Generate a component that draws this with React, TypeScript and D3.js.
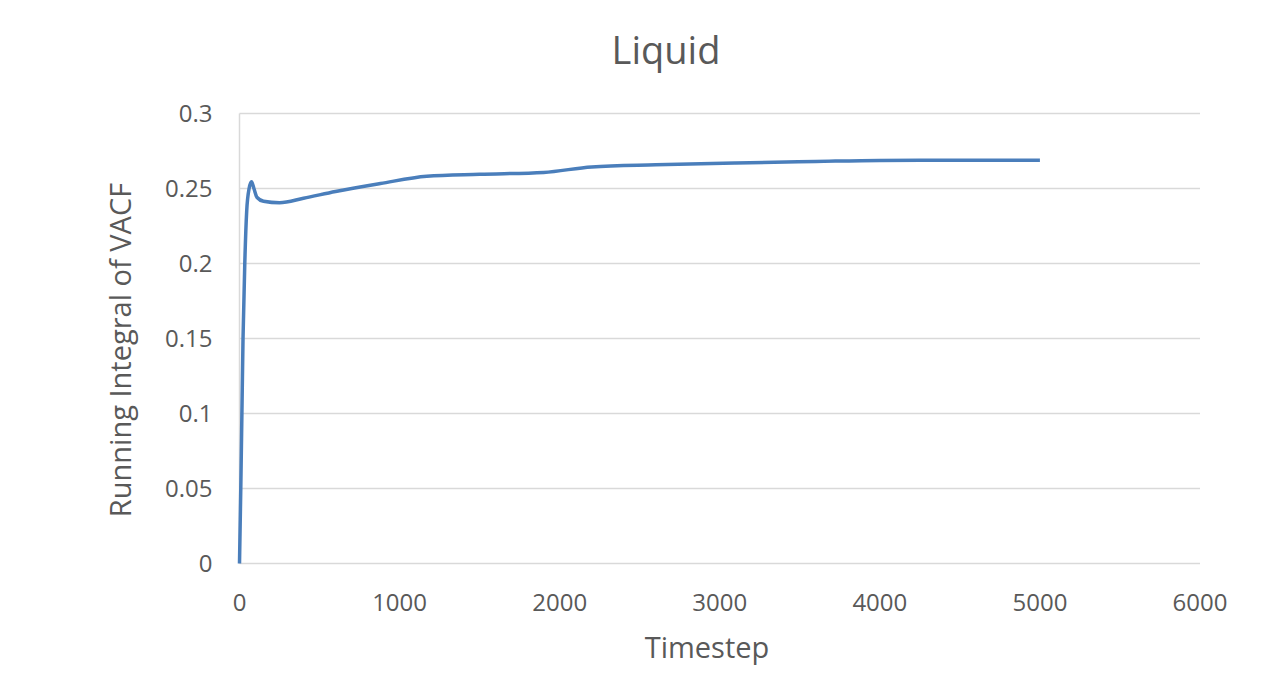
import React, { useEffect, useRef } from "react";
import * as d3 from "d3";

// timestep vs running integral of VACF
const timesteps = [0, 8, 15, 22, 33, 45, 60, 75, 90, 110, 150, 250, 400, 600, 880, 1170, 1500, 1900, 2200, 2600, 3100, 3600, 4000, 4500, 5000];
const integral = [0, 0.05, 0.1, 0.15, 0.2, 0.235, 0.25, 0.2545, 0.25, 0.244, 0.2415, 0.2405, 0.2435, 0.248, 0.2533, 0.2582, 0.2595, 0.2607, 0.2644, 0.2658, 0.267, 0.268, 0.2687, 0.2688, 0.2689];

const xTicks = [0, 1000, 2000, 3000, 4000, 5000, 6000];
const yTicks = [0, 0.05, 0.1, 0.15, 0.2, 0.25, 0.3];

const chartTitle = "Liquid";
const xLabel = "Timestep";
const yLabel = "Running Integral of VACF";

const App: React.FC = () => {
  const svgRef = useRef<SVGSVGElement | null>(null);

  useEffect(() => {
    const svg = d3.select(svgRef.current);
    svg.selectAll("*").remove();

    const w = 1288;
    const h = 683;
    const m = { top: 113.5, right: 88, bottom: 119.5, left: 239.5 };
    const font = "'Open Sans', 'Noto Sans', sans-serif";
    const grey = "#595959";

    const x = d3.scaleLinear().domain([0, 6000]).range([m.left, w - m.right]);
    const y = d3.scaleLinear().domain([0, 0.3]).range([h - m.bottom, m.top]);

    svg.attr("width", w).attr("height", h).style("background-color", "#ffffff");

    // horizontal gridlines
    svg.append("g")
      .selectAll("line")
      .data(yTicks)
      .enter()
      .append("line")
      .attr("x1", m.left)
      .attr("x2", w - m.right)
      .attr("y1", d => y(d))
      .attr("y2", d => y(d))
      .attr("stroke", "#d9d9d9")
      .attr("stroke-width", 1.5);

    // left axis line
    svg.append("line")
      .attr("x1", m.left)
      .attr("x2", m.left)
      .attr("y1", y(0))
      .attr("y2", y(0.3))
      .attr("stroke", "#d9d9d9")
      .attr("stroke-width", 1.5);

    // y tick labels
    svg.append("g")
      .selectAll("text")
      .data(yTicks)
      .enter()
      .append("text")
      .attr("x", m.left - 27)
      .attr("y", d => y(d))
      .attr("dy", "0.35em")
      .style("text-anchor", "end")
      .style("font-family", font)
      .style("font-size", "24px")
      .style("fill", grey)
      .text(d => String(d));

    // x tick labels
    svg.append("g")
      .selectAll("text")
      .data(xTicks)
      .enter()
      .append("text")
      .attr("x", d => x(d))
      .attr("y", h - m.bottom + 47)
      .style("text-anchor", "middle")
      .style("font-family", font)
      .style("font-size", "24px")
      .style("fill", grey)
      .text(d => String(d));

    const line = d3.line<number>()
      .x((_, i) => x(timesteps[i]))
      .y(d => y(d))
      .curve(d3.curveMonotoneX);

    svg.append("path")
      .datum(integral)
      .attr("fill", "none")
      .attr("stroke", "#4a7ebb")
      .attr("stroke-width", 3.5)
      .attr("stroke-linejoin", "round")
      .attr("d", line);

    // title
    svg.append("text")
      .attr("x", 666)
      .attr("y", 64)
      .style("text-anchor", "middle")
      .style("font-family", font)
      .style("font-size", "38px")
      .style("fill", grey)
      .text(chartTitle);

    // axis titles
    svg.append("text")
      .attr("x", 707)
      .attr("y", 658)
      .style("text-anchor", "middle")
      .style("font-family", font)
      .style("font-size", "29px")
      .style("fill", grey)
      .text(xLabel);

    svg.append("text")
      .attr("transform", "translate(131, 350) rotate(-90)")
      .style("text-anchor", "middle")
      .style("font-family", font)
      .style("font-size", "29px")
      .style("fill", grey)
      .text(yLabel);
  }, []);

  return (
    <div style={{ position: "absolute", left: 0, top: 0 }}>
      <svg ref={svgRef} style={{ display: "block" }}></svg>
    </div>
  );
};

export default App;
